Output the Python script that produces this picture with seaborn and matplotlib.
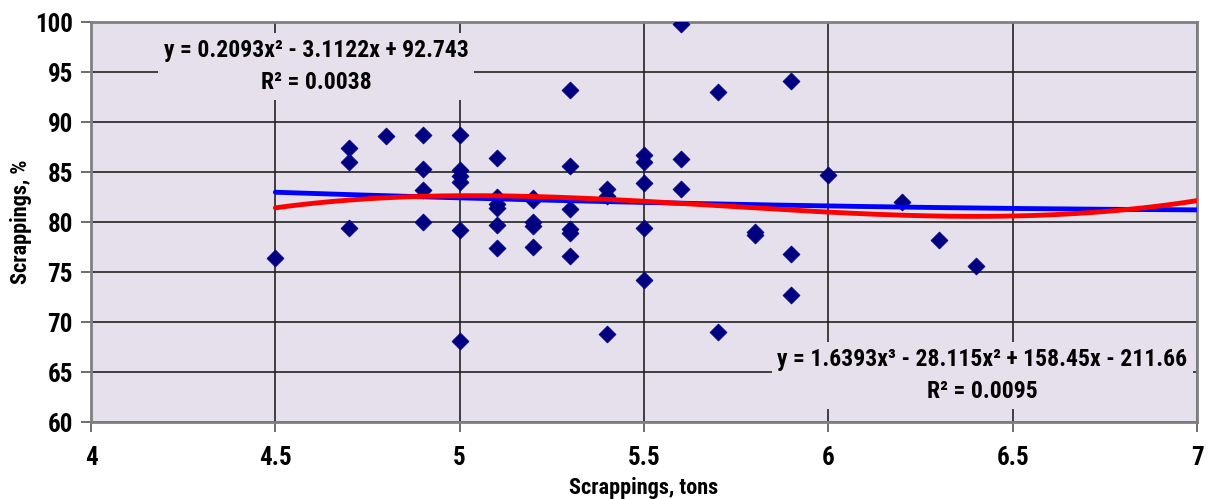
import numpy as np
import pandas as pd
import matplotlib
matplotlib.use("Agg")
import matplotlib.pyplot as plt
import seaborn as sns

# scatter data
tons = [4.5,
        4.7, 4.7, 4.7,
        4.8,
        4.9, 4.9, 4.9, 4.9,
        5.0, 5.0, 5.0, 5.0, 5.0, 5.0,
        5.1, 5.1, 5.1, 5.1, 5.1, 5.1,
        5.2, 5.2, 5.2, 5.2, 5.2,
        5.3, 5.3, 5.3, 5.3, 5.3, 5.3,
        5.4, 5.4, 5.4,
        5.5, 5.5, 5.5, 5.5, 5.5,
        5.6, 5.6, 5.6,
        5.7, 5.7,
        5.8, 5.8,
        5.9, 5.9, 5.9,
        6.0, 6.2, 6.3, 6.4]
percent = [76.4,
           87.4, 86.0, 79.4,
           88.6,
           88.7, 85.3, 83.2, 80.0,
           88.7, 85.2, 84.6, 84.0, 79.2, 68.1,
           86.4, 82.5, 81.8, 81.4, 79.7, 77.4,
           82.4, 80.0, 79.6, 77.5, 82.2,
           93.2, 85.6, 81.3, 79.3, 78.9, 76.6,
           83.3, 82.6, 68.8,
           86.7, 86.0, 83.9, 79.4, 74.2,
           99.8, 86.3, 83.3,
           93.0, 69.0,
           79.0, 78.7,
           94.1, 76.8, 72.7,
           84.7, 82.0, 78.2, 75.6]

# trendline coefficients shown on the chart
quad_coef = [0.2093, -3.1122, 92.743]
cubic_coef = [1.6393, -28.115, 158.45, -211.66]
quad_label = "y = 0.2093x\u00b2 - 3.1122x + 92.743\nR\u00b2 = 0.0038"
cubic_label = "y = 1.6393x\u00b3 - 28.115x\u00b2 + 158.45x - 211.66\nR\u00b2 = 0.0095"

df = pd.DataFrame({"tons": tons, "percent": percent})
xs = np.linspace(4.5, 7.0, 200)
trend = pd.DataFrame({"x": xs,
                      "quad": np.polyval(quad_coef, xs),
                      "cubic": np.polyval(cubic_coef, xs)})

sns.set_style("white")
plt.rcParams['font.family'] = ['Roboto Condensed', 'Liberation Sans Narrow', 'Roboto', 'DejaVu Sans']
plt.rcParams['font.weight'] = 'bold'
plt.rcParams['text.color'] = 'black'
plt.rcParams['axes.labelcolor'] = 'black'
plt.rcParams['xtick.color'] = 'black'
plt.rcParams['ytick.color'] = 'black'

bg = "#E6E0EC"
fig = plt.figure(figsize=(12.12, 4.99), dpi=100)
ax = fig.add_axes([91/1212, 1 - 422/499, (1197-91)/1212, (422-22)/499])
ax.set_facecolor(bg)

sns.scatterplot(data=df, x="tons", y="percent", marker="D", s=75,
                color="#000080", edgecolor="#000080", linewidth=0.5, ax=ax, zorder=3)
sns.lineplot(data=trend, x="x", y="quad", color="#0000FF", linewidth=3.5, ax=ax, zorder=4)
sns.lineplot(data=trend, x="x", y="cubic", color="#FF0000", linewidth=3.5, ax=ax, zorder=5)

ax.set_xlim(4, 7)
ax.set_ylim(60, 100)
ax.set_xticks(np.arange(4, 7.01, 0.5))
ax.set_xticklabels(["4", "4.5", "5", "5.5", "6", "6.5", "7"])
ax.set_yticks(np.arange(60, 101, 5))
ax.grid(True, color="#222222", linewidth=1.2)
ax.set_axisbelow(True)
for sp in ax.spines.values():
    sp.set_color("#808080")
    sp.set_linewidth(2)
    sp.set_visible(True)
ax.tick_params(axis="both", which="major", labelsize=18, length=7, width=1.2,
               color="#555555", direction="out", bottom=True, left=True)
ax.tick_params(axis="x", pad=10)
ax.tick_params(axis="y", pad=6)
for lab in ax.get_xticklabels() + ax.get_yticklabels():
    lab.set_fontweight("bold")

ax.set_xlabel("Scrappings, tons", fontsize=16, fontweight="bold", labelpad=5)
ax.set_ylabel("Scrappings, %", fontsize=16, fontweight="bold", labelpad=2)

box = dict(facecolor=bg, edgecolor="none", pad=4)
ax.text(4.611, 95.55, quad_label, ha="center", va="center", fontsize=17,
        fontweight="bold", linespacing=1.5, bbox=box, zorder=6)
ax.text(6.418, 64.65, cubic_label, ha="center", va="center", fontsize=17,
        fontweight="bold", linespacing=1.5, bbox=box, zorder=6)

fig.savefig("out.png", dpi=100, facecolor="white")
